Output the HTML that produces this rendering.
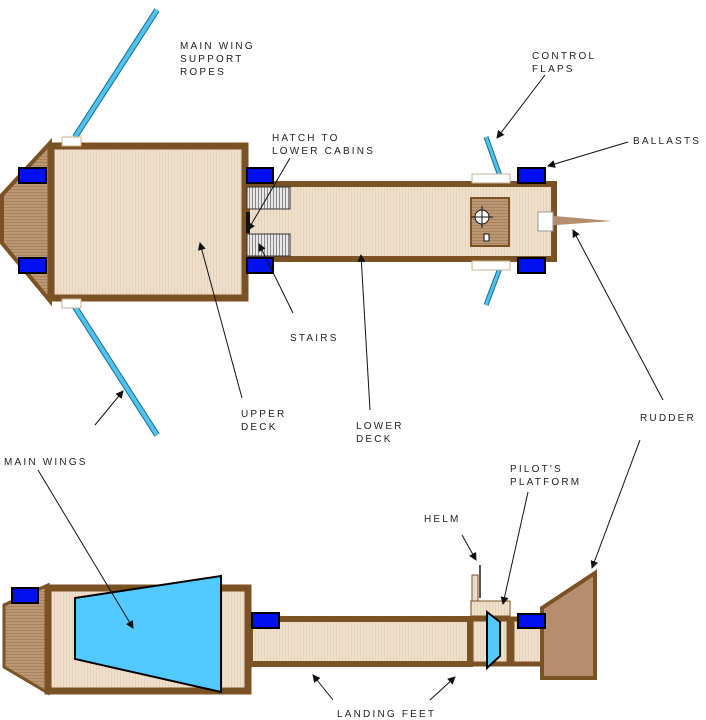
<!DOCTYPE html>
<html><head><meta charset="utf-8"><style>
html,body{margin:0;padding:0;background:#fff;}
svg{display:block;}
text{font-family:"Liberation Sans",sans-serif;font-size:10px;letter-spacing:2.2px;fill:#222;}
</style></head><body>
<svg width="706" height="720" viewBox="0 0 706 720" xmlns="http://www.w3.org/2000/svg">
<defs>
<marker id="a" markerWidth="8" markerHeight="8" refX="7" refY="4" orient="auto" markerUnits="userSpaceOnUse">
<path d="M0,0 L8,4 L0,8 Z" fill="#111"/></marker>
<pattern id="st" width="3" height="3" patternUnits="userSpaceOnUse"><rect width="3" height="3" fill="#f0e0cb"/><rect width="1" height="3" fill="#e6d3bb"/></pattern>
<pattern id="gs" width="3" height="3" patternUnits="userSpaceOnUse"><rect width="3" height="3" fill="#e8e8e8"/><rect width="1" height="3" fill="#888"/></pattern>
<pattern id="hs" width="3" height="3" patternUnits="userSpaceOnUse"><rect width="3" height="3" fill="#bb9774"/><rect width="3" height="1" fill="#a7825f"/></pattern>
</defs>
<g stroke="#7a5224" stroke-width="1">
<!-- top view wings -->
<line x1="157" y1="10" x2="75" y2="137" stroke="#1a6c8a" stroke-width="6"/>
<line x1="157" y1="10" x2="75" y2="137" stroke="#4fc3f0" stroke-width="4"/>
<line x1="75" y1="307" x2="157" y2="435" stroke="#1a6c8a" stroke-width="6"/>
<line x1="75" y1="307" x2="157" y2="435" stroke="#4fc3f0" stroke-width="4"/>
<line x1="486" y1="137" x2="500" y2="176" stroke="#1a6c8a" stroke-width="5"/>
<line x1="486" y1="137" x2="500" y2="176" stroke="#4fc3f0" stroke-width="3"/>
<line x1="500" y1="268" x2="486" y2="305" stroke="#1a6c8a" stroke-width="5"/>
<line x1="500" y1="268" x2="486" y2="305" stroke="#4fc3f0" stroke-width="3"/>
<!-- nose -->
<polygon points="50,143 2,195 2,243 50,301" fill="url(#hs)" stroke="#7a5224" stroke-width="4"/>
<!-- lower deck -->
<rect x="247" y="184" width="307" height="75" fill="url(#st)" stroke="#7a5224" stroke-width="6"/>
<!-- upper deck -->
<rect x="51" y="146" width="194" height="152" fill="url(#st)" stroke="#7a5224" stroke-width="7"/>
<rect x="247" y="187" width="43" height="22" fill="url(#gs)" stroke="#333"/>
<rect x="247" y="234" width="43" height="22" fill="url(#gs)" stroke="#333"/>
<rect x="246" y="212" width="4" height="21" fill="#111" stroke="none"/>
<rect x="62" y="137" width="19" height="9" fill="#fff" stroke="#c9b08c"/>
<rect x="62" y="299" width="19" height="9" fill="#fff" stroke="#c9b08c"/>
<rect x="472" y="174" width="38" height="9" fill="#fff" stroke="#c9b08c"/>
<rect x="472" y="261" width="38" height="9" fill="#fff" stroke="#c9b08c"/>
<!-- helm platform -->
<rect x="471" y="198" width="38" height="48" fill="url(#hs)" stroke="#7a5224" stroke-width="2"/>
<circle cx="482" cy="217" r="7" fill="#fff" stroke="#111"/>
<line x1="471" y1="217" x2="493" y2="217" stroke="#111"/><line x1="482" y1="206" x2="482" y2="228" stroke="#111"/>
<rect x="484" y="234" width="5" height="7" fill="#fff" stroke="#111"/>
<!-- rudder top -->
<polygon points="543,215 612,221 543,226" fill="#b58f6d" stroke="none"/>
<rect x="538" y="212" width="15" height="19" fill="#fff" stroke="#999"/>
<!-- ballasts -->
<g fill="#0010f0" stroke="#000" stroke-width="2">
<rect x="19" y="168" width="27" height="15"/><rect x="19" y="258" width="27" height="15"/>
<rect x="247" y="168" width="26" height="15"/><rect x="247" y="258" width="26" height="15"/>
<rect x="518" y="168" width="27" height="15"/><rect x="518" y="258" width="27" height="15"/>
</g>
<!-- side view -->
<polygon points="4,605 48,585 48,693 4,667" fill="url(#hs)" stroke="#7a5224" stroke-width="3"/>
<rect x="48" y="588" width="200" height="103" fill="url(#st)" stroke="#7a5224" stroke-width="7"/>
<rect x="250" y="619" width="220" height="45" fill="url(#st)" stroke="#7a5224" stroke-width="6"/>
<rect x="472" y="575" width="6" height="26" fill="url(#st)" stroke="#7a5224"/>
<rect x="471" y="601" width="39" height="15" fill="url(#st)" stroke="#7a5224"/>
<rect x="471" y="619" width="38" height="45" fill="url(#st)" stroke="#7a5224" stroke-width="5"/>
<rect x="512" y="619" width="40" height="45" fill="url(#st)" stroke="#7a5224" stroke-width="5"/>
<polygon points="542,608 595,573 595,678 542,678" fill="#b58f6d" stroke="#7a5224" stroke-width="4"/>
<line x1="480" y1="565" x2="480" y2="598" stroke="#555" stroke-width="2"/>
<polygon points="75,598 221,576 221,692 75,659" fill="#52c9ff" stroke="#000" stroke-width="2"/>
<polygon points="487,612 500,622 500,656 487,668" fill="#52c9ff" stroke="#000" stroke-width="2"/>
<g fill="#0010f0" stroke="#000" stroke-width="2">
<rect x="12" y="588" width="26" height="15"/><rect x="252" y="613" width="27" height="15"/><rect x="518" y="614" width="27" height="14"/>
</g>
</g>
<!-- arrows -->
<g stroke="#111" stroke-width="1" marker-end="url(#a)">
<line x1="290" y1="158" x2="248" y2="230"/>
<line x1="242" y1="398" x2="200" y2="243"/>
<line x1="293" y1="313" x2="259" y2="244"/>
<line x1="370" y1="410" x2="361" y2="255"/>
<line x1="663" y1="400" x2="573" y2="230"/>
<line x1="628" y1="142" x2="548" y2="166"/>
<line x1="545" y1="75" x2="497" y2="138"/>
<line x1="95" y1="425" x2="123" y2="391"/>
<line x1="38" y1="470" x2="133" y2="628"/>
<line x1="462" y1="535" x2="476" y2="560"/>
<line x1="528" y1="492" x2="503" y2="604"/>
<line x1="640" y1="440" x2="592" y2="568"/>
<line x1="333" y1="700" x2="313" y2="675"/>
<line x1="430" y1="700" x2="455" y2="677"/>
</g>
<text x="180" y="49">MAIN WING</text><text x="180" y="62">SUPPORT</text><text x="180" y="75">ROPES</text>
<text x="272" y="141">HATCH TO</text><text x="272" y="154">LOWER CABINS</text>
<text x="532" y="59">CONTROL</text><text x="532" y="72">FLAPS</text>
<text x="633" y="144">BALLASTS</text>
<text x="290" y="341">STAIRS</text>
<text x="241" y="417">UPPER</text><text x="241" y="430">DECK</text>
<text x="356" y="429">LOWER</text><text x="356" y="442">DECK</text>
<text x="640" y="421">RUDDER</text>
<text x="4" y="465">MAIN WINGS</text>
<text x="510" y="472">PILOT'S</text><text x="510" y="485">PLATFORM</text>
<text x="424" y="522">HELM</text>
<text x="337" y="717">LANDING FEET</text>
</svg>
</body></html>
